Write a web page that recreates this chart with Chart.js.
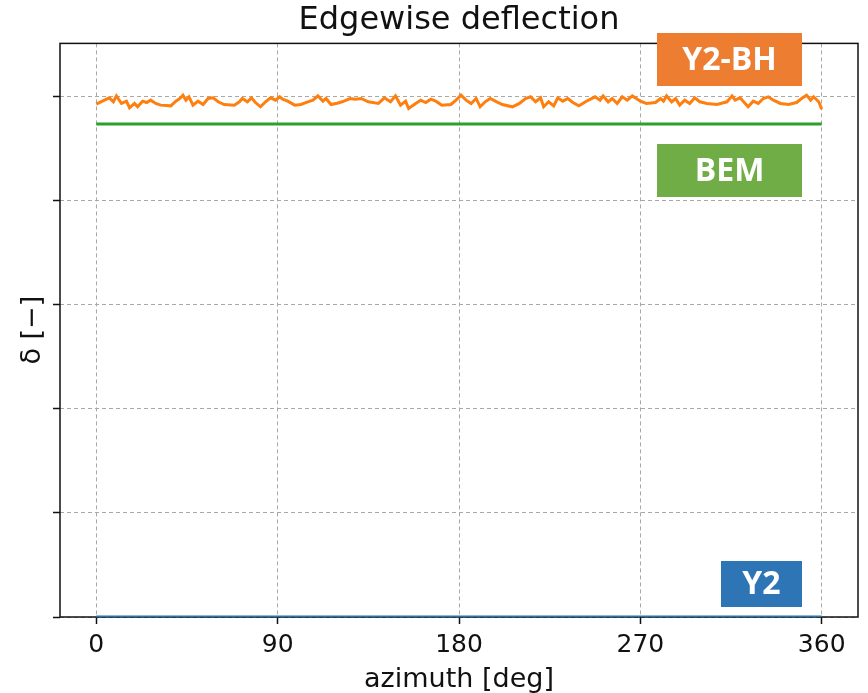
<!DOCTYPE html>
<html>
<head>
<meta charset="utf-8">
<script src="https://cdn.jsdelivr.net/npm/chart.js@4.4.1/dist/chart.umd.min.js"></script>
<style>
  body { margin: 0; background: #fff; }
</style>
</head>
<body>
<canvas id="chart" width="868" height="693"></canvas>
<script>
// azimuth positions (deg)
var azimuth = [0,4,6.5,8.5,10,12.5,15,16.5,19,20.5,23,25,27,29.5,32,37,39.5,41.5,43,44.5,46,48,50.5,53,55.5,58,60.5,63.5,68.5,71,72.5,75,77,79,81.5,84,86.5,89,91,92.5,95,98.5,101.5,105,107.5,110,112.5,114,116.5,119.5,122,126,128.5,131.5,135,140,143,146,148.5,151,153.5,155,158.5,161,163.5,166,168.5,171.5,176,178.5,181,183.5,186,188.5,190.5,193,195.5,198,201.5,206.5,210,213,215.5,218,220.5,222,224.5,227,229,231.5,234,236.5,239.5,243,247.5,250,251.5,254,256,258.5,261,263.5,266,268,270,273,277.5,280,281.5,283,285.5,287.5,289.5,292,294.5,297,299.5,303,308,313,315.5,317,319.5,322,323.5,326,328.5,331,333.5,336,339.5,343.5,347.5,350,352.5,354.5,356,358.5,360];
var y2bh = [4.926,4.965,4.987,4.949,5.006,4.933,4.955,4.891,4.933,4.901,4.955,4.942,4.965,4.933,4.917,4.910,4.955,4.981,5.013,4.965,4.997,4.917,4.955,4.923,4.981,4.987,4.949,4.923,4.917,4.949,4.981,4.949,4.987,4.942,4.901,4.949,4.987,4.965,4.997,4.974,4.955,4.917,4.923,4.949,4.965,5.006,4.955,4.981,4.923,4.935,4.949,4.980,4.974,4.981,4.949,4.933,4.987,4.949,5.006,4.917,4.955,4.885,4.933,4.965,4.942,4.974,4.955,4.917,4.923,4.965,5.013,4.965,4.933,4.981,4.901,4.949,4.981,4.955,4.923,4.901,4.933,4.981,4.997,4.949,4.987,4.901,4.949,4.910,4.987,4.955,4.981,4.942,4.910,4.952,4.997,4.965,5.006,4.949,4.981,4.933,4.997,4.965,5.006,4.981,4.955,4.933,4.942,4.981,4.955,5.006,4.949,4.981,4.917,4.965,4.933,4.987,4.949,4.933,4.923,4.949,5.006,4.965,4.987,4.933,4.901,4.955,4.933,4.981,4.997,4.965,4.933,4.923,4.942,4.981,5.013,4.965,4.997,4.949,4.878];

var bemAz = [0, 360];
var bem = [4.735, 4.735];
var y2Az = [0, 360];
var y2 = [0, 0];

var xTicks = [0, 90, 180, 270, 360];
var yTicks = [0, 1, 2, 3, 4, 5];

function pts(xs, ys) {
  return xs.map(function (x, i) { return { x: x, y: ys[i] }; });
}

// frame under the lines, coloured name boxes on top
var overlay = {
  id: 'overlay',
  beforeDatasetsDraw: function (chart) {
    var ctx = chart.ctx, a = chart.chartArea;
    ctx.save();
    ctx.strokeStyle = '#111';
    ctx.lineWidth = 1.5;
    ctx.strokeRect(a.left, a.top, a.right - a.left, a.bottom - a.top);
    ctx.restore();
  },
  afterDatasetsDraw: function (chart) {
    var ctx = chart.ctx;
    ctx.save();
    var boxes = [
      { text: 'Y2-BH', color: '#ED7D31', x: 657, y: 33, w: 145, h: 53 },
      { text: 'BEM', color: '#70AD47', x: 657, y: 144, w: 145, h: 53 },
      { text: 'Y2', color: '#2E75B6', x: 721, y: 561, w: 81, h: 46 }
    ];
    ctx.font = 'bold 32px "Open Sans"';
    ctx.textAlign = 'center';
    ctx.textBaseline = 'middle';
    boxes.forEach(function (b) {
      ctx.fillStyle = b.color;
      ctx.fillRect(b.x, b.y, b.w, b.h);
      ctx.fillStyle = '#fff';
      ctx.fillText(b.text, b.x + b.w / 2, b.y + b.h / 2 + 1);
    });
    ctx.restore();
  }
};

var gridOpts = {
  color: '#a8a8a8',
  lineWidth: 1,
  tickLength: 7,
  tickColor: '#111',
  tickWidth: 1.5,
  tickBorderDash: []
};

new Chart(document.getElementById('chart'), {
  type: 'line',
  data: {
    datasets: [
      {
        label: 'Y2',
        data: pts(y2Az, y2),
        borderColor: '#1f77b4',
        borderWidth: 3,
        pointRadius: 0,
        order: 3
      },
      {
        label: 'Y2-BH',
        data: pts(azimuth, y2bh),
        borderColor: '#ff7f0e',
        borderWidth: 3,
        pointRadius: 0,
        order: 2
      },
      {
        label: 'BEM',
        data: pts(bemAz, bem),
        borderColor: '#2ca02c',
        borderWidth: 3,
        pointRadius: 0,
        order: 1
      }
    ]
  },
  options: {
    responsive: false,
    animation: false,
    layout: { padding: { right: 10 } },
    plugins: {
      legend: { display: false },
      tooltip: { enabled: false },
      title: {
        display: true,
        text: 'Edgewise deflection',
        fullSize: false,
        color: '#111',
        font: { family: 'DejaVu Sans', size: 32, weight: 'normal', lineHeight: 1.2 },
        padding: { top: 1, bottom: 4 }
      }
    },
    scales: {
      x: {
        type: 'linear',
        min: -18,
        max: 378,
        afterBuildTicks: function (s) { s.ticks = xTicks.map(function (v) { return { value: v }; }); },
        afterFit: function (s) { s.height = 76; },
        border: { display: false, dash: [4, 3] },
        grid: gridOpts,
        ticks: {
          color: '#111',
          padding: 6,
          maxRotation: 0,
          font: { family: 'DejaVu Sans', size: 25, lineHeight: 1.2 }
        },
        title: {
          display: true,
          text: 'azimuth [deg]',
          color: '#111',
          font: { family: 'DejaVu Sans', size: 27, lineHeight: 1 },
          padding: { top: 0, bottom: 0 }
        }
      },
      y: {
        type: 'linear',
        min: 0,
        max: 5.51,
        afterBuildTicks: function (s) { s.ticks = yTicks.map(function (v) { return { value: v }; }); },
        afterFit: function (s) { s.width = 60; },
        border: { display: false, dash: [4, 3] },
        grid: gridOpts,
        ticks: { display: false },
        title: {
          display: true,
          text: 'δ [−]',
          color: '#111',
          font: { family: 'DejaVu Sans', size: 27, lineHeight: 1 },
          padding: { top: 19, bottom: 0 }
        }
      }
    }
  },
  plugins: [overlay]
});
</script>
</body>
</html>
